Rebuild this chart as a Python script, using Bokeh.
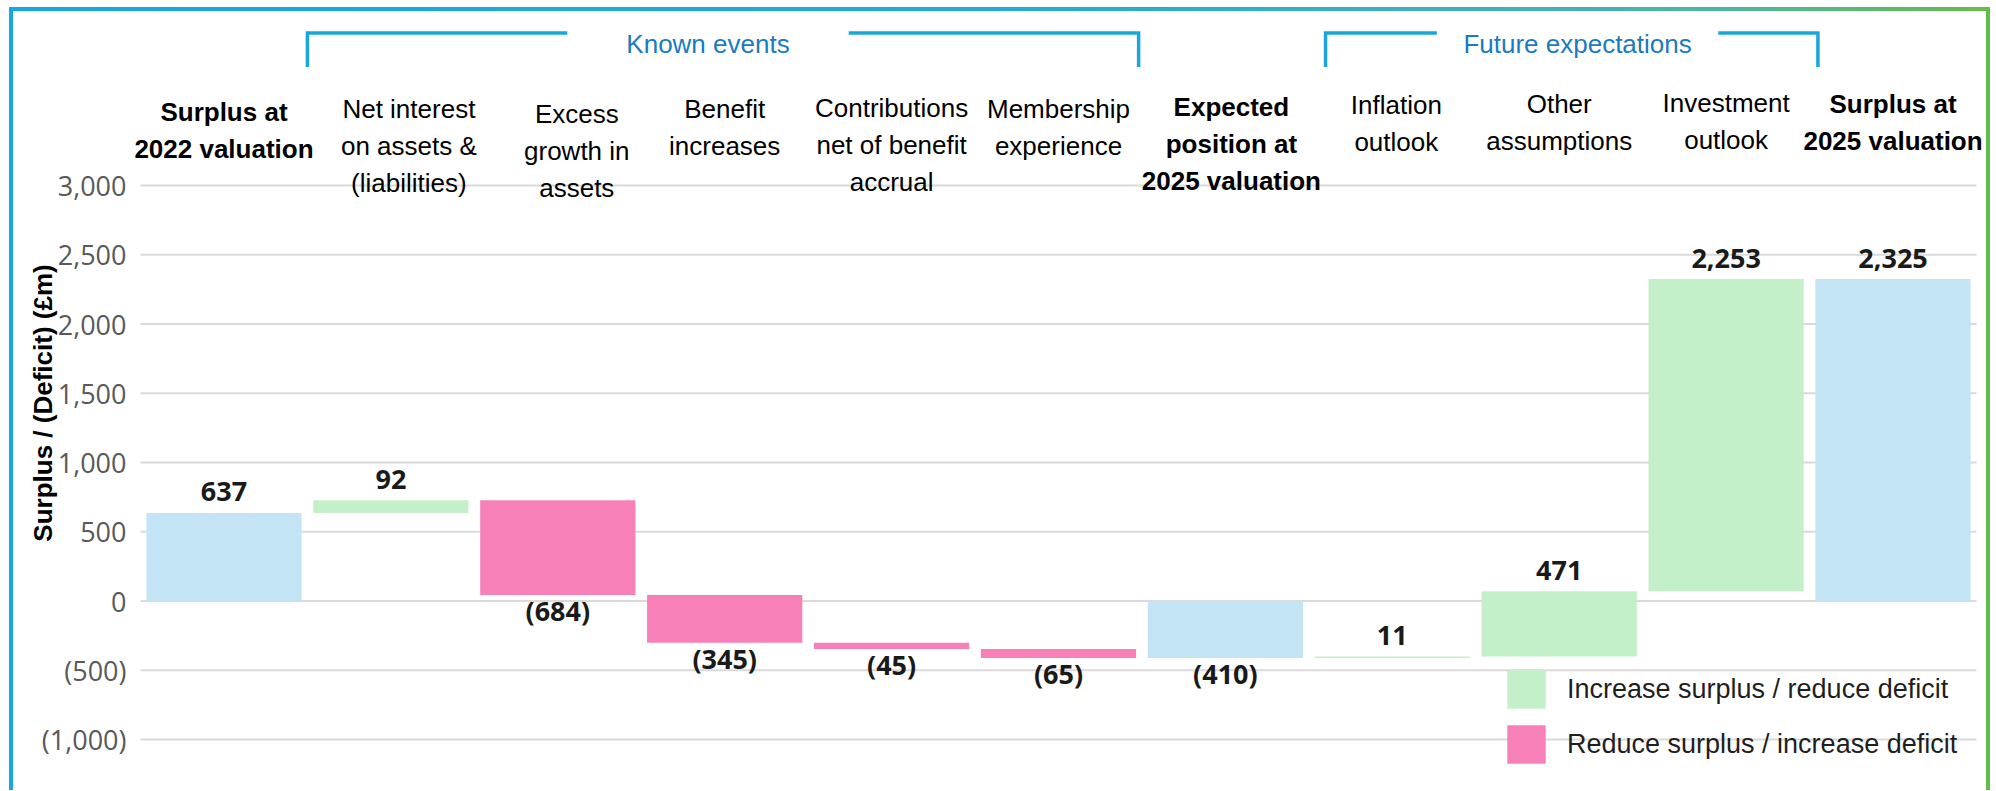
from bokeh.plotting import figure
from bokeh.models import (ColumnDataSource, FactorRange, Range1d, FixedTicker,
                          Legend, LegendItem)
from bokeh.core.properties import value
from bokeh.embed import file_html
from bokeh.resources import INLINE

# ---------------- data ----------------
categories = [
    "Surplus at\n2022 valuation",
    "Net interest\non assets &\n(liabilities)",
    "Excess\ngrowth in\nassets",
    "Benefit\nincreases",
    "Contributions\nnet of benefit\naccrual",
    "Membership\nexperience",
    "Expected\nposition at\n2025 valuation",
    "Inflation\noutlook",
    "Other\nassumptions",
    "Investment\noutlook",
    "Surplus at\n2025 valuation",
]
values = [637, 92, -684, -345, -45, -65, -410, 11, 471, 2253, 2325]
kinds = ["total", "delta", "delta", "delta", "delta", "delta",
         "total", "delta", "delta", "delta", "total"]

tick_values = [-1000, -500, 0, 500, 1000, 1500, 2000, 2500, 3000]
tick_labels = ["(1,000)", "(500)", "0", "500", "1,000", "1,500",
               "2,000", "2,500", "3,000"]

y_axis_label = "Surplus / (Deficit) (£m)"
legend_labels = ["Increase surplus / reduce deficit",
                 "Reduce surplus / increase deficit"]
group_labels = ["Known events", "Future expectations"]

# ---------------- style / layout ----------------
C_TOTAL = "#C3E4F4"
C_UP = "#C4F0C9"
C_DOWN = "#F780B9"
C_GRID = "#DADADA"
C_BRACKET = "#1AA6DD"
C_GROUP_TEXT = "#1A7BC0"
HEAD_FONT = "Liberation Sans"
NUM_FONT = "Open Sans"

Y_MIN, Y_MAX = -1396.2, 4256.9
HEADER_Y = 3669        # top of the category header labels
# small per-header pixel nudges (as in the original artwork)
HEADER_DX = [0, 18, 19, 0, 0, 0, 6, 4, 0, 0, 0]
HEADER_DY = [4, 1, 6, 1, 0, 1, -1, -3, -4, -5, -4]
GROUP_TEXT_Y = 4025
BRACKET_TOP = 4102
BRACKET_BOTTOM = 3857
# bracket geometry in category (synthetic) coordinates: x0, x1, text centre, half-gap
BRACKETS = [(1.0, 5.98, 3.40, 0.843), (7.10, 10.05, 8.61, 0.843)]

# ---------------- waterfall computation ----------------
bottoms, tops = [], []
running = 0
for v, k in zip(values, kinds):
    if k == "total":
        b, t = 0, v
        running = v
    else:
        b, t = running, running + v
        running += v
    bottoms.append(min(b, t))
    tops.append(max(b, t))


def fmt(v):
    return f"{abs(v):,}" if v >= 0 else f"({abs(v):,})"


def subset(pred):
    idx = [i for i in range(len(categories)) if pred(i)]
    return ColumnDataSource(dict(
        x=[categories[i] for i in idx],
        bottom=[bottoms[i] for i in idx],
        top=[tops[i] for i in idx],
    ))


src_total = subset(lambda i: kinds[i] == "total")
src_up = subset(lambda i: kinds[i] == "delta" and values[i] > 0)
src_down = subset(lambda i: kinds[i] == "delta" and values[i] < 0)

p = figure(
    width=1981, height=783,
    x_range=FactorRange(factors=categories, range_padding=0.084,
                        range_padding_units="absolute", factor_padding=0),
    y_range=Range1d(Y_MIN, Y_MAX),
    x_axis_location=None,
    output_backend="svg", toolbar_location=None,
    min_border_left=113, min_border_right=4,
    min_border_top=0, min_border_bottom=0,
)
p.outline_line_color = None
p.background_fill_color = "white"
p.border_fill_color = "white"
p.styles = {
    "margin-left": "9px",
    "margin-top": "7px",
    "border-style": "solid",
    "border-width": "4px 4px 0px 4px",
    "border-image": "linear-gradient(to right, #14A8E2 0%, #22AADA 50%, #4AB5A8 85%, #64BC48 100%) 1",
}

# axis (grid drawn across the category span only)
ticker = FixedTicker(ticks=tick_values)
p.yaxis.ticker = ticker
p.xgrid.grid_line_color = None
p.ygrid.grid_line_color = None
p.yaxis.major_label_overrides = {t: l for t, l in zip(tick_values, tick_labels)}
p.yaxis.axis_line_color = None
p.yaxis.major_tick_line_color = None
p.yaxis.minor_tick_line_color = None
p.yaxis.major_tick_out = 0
p.yaxis.major_label_standoff = 0
p.yaxis.major_label_text_font = NUM_FONT
p.yaxis.major_label_text_font_size = "27px"
p.yaxis.major_label_text_color = "#595959"
p.yaxis.axis_label = y_axis_label
p.yaxis.axis_label_text_font = HEAD_FONT
p.yaxis.axis_label_text_font_size = "26px"
p.yaxis.axis_label_text_font_style = "bold"
p.yaxis.axis_label_text_color = "#000000"
p.yaxis.axis_label_standoff = -19

p.segment(x0=[0] * len(tick_values), x1=[len(categories)] * len(tick_values),
          y0=tick_values, y1=tick_values, line_color=C_GRID, line_width=2,
          level="underlay")

# bars
bw = 0.93
r_total = p.vbar(x="x", bottom="bottom", top="top", width=bw, source=src_total,
                 fill_color=C_TOTAL, line_color=None)
r_up = p.vbar(x="x", bottom="bottom", top="top", width=bw, source=src_up,
              fill_color=C_UP, line_color=None)
r_down = p.vbar(x="x", bottom="bottom", top="top", width=bw, source=src_down,
                fill_color=C_DOWN, line_color=None)

# value labels
above = [(k == "total" and v >= 0) or (k == "delta" and v > 0) for v, k in zip(values, kinds)]
src_above = ColumnDataSource(dict(
    x=[c for c, a in zip(categories, above) if a],
    y=[t for t, a in zip(tops, above) if a],
    text=[fmt(v) for v, a in zip(values, above) if a],
))
src_below = ColumnDataSource(dict(
    x=[c for c, a in zip(categories, above) if not a],
    y=[b for b, a in zip(bottoms, above) if not a],
    text=[fmt(v) for v, a in zip(values, above) if not a],
))
lbl_kw = dict(text_font=value(NUM_FONT), text_font_size="27px", text_font_style="bold",
              text_color="#1A1A1A", text_align="center", text_baseline="middle")
p.text(x="x", y="y", text="text", source=src_above, y_offset=-21, **lbl_kw)
p.text(x="x", y="y", text="text", source=src_below, y_offset=16, **lbl_kw)

# category headers
bold_flags = [k == "total" for k in kinds]
hdr_kw = dict(text_font=value(HEAD_FONT), text_font_size="26px", text_color="#000000",
              text_align="center", text_baseline="top", text_line_height=1.24)
for want_bold in (True, False):
    idx = [i for i, b in enumerate(bold_flags) if b == want_bold]
    src_hdr = ColumnDataSource(dict(
        x=[categories[i] for i in idx],
        y=[HEADER_Y] * len(idx),
        text=[categories[i] for i in idx],
        dx=[HEADER_DX[i] for i in idx],
        dy=[HEADER_DY[i] for i in idx],
    ))
    p.text(x="x", y="y", text="text", x_offset="dx", y_offset="dy", source=src_hdr,
           text_font_style="bold" if want_bold else "normal", **hdr_kw)

# group brackets
xs, ys = [], []
for (x0, x1, xc, hg) in BRACKETS:
    xs.append([x0, x0, xc - hg])
    ys.append([BRACKET_BOTTOM, BRACKET_TOP, BRACKET_TOP])
    xs.append([xc + hg, x1, x1])
    ys.append([BRACKET_TOP, BRACKET_TOP, BRACKET_BOTTOM])
p.multi_line(xs=xs, ys=ys, line_color=C_BRACKET, line_width=3.5,
             line_join="miter", line_cap="butt")
p.text(x=[b[2] for b in BRACKETS], y=[GROUP_TEXT_Y] * len(BRACKETS), text=group_labels,
       text_font=value(HEAD_FONT), text_font_size="26px", text_color=C_GROUP_TEXT,
       text_align="center", text_baseline="middle")

# legend
legend = Legend(
    items=[LegendItem(label=legend_labels[0], renderers=[r_up]),
           LegendItem(label=legend_labels[1], renderers=[r_down])],
    location=(1376, 26), glyph_width=48, glyph_height=48, spacing=7,
    label_standoff=17, padding=0, margin=0, border_line_color=None,
    background_fill_alpha=0, label_text_font=HEAD_FONT,
    label_text_font_size="27px", label_text_color="#1F1F1F",
    label_text_baseline="middle",
)
p.add_layout(legend)

open("out.html", "w").write(file_html(p, INLINE))
